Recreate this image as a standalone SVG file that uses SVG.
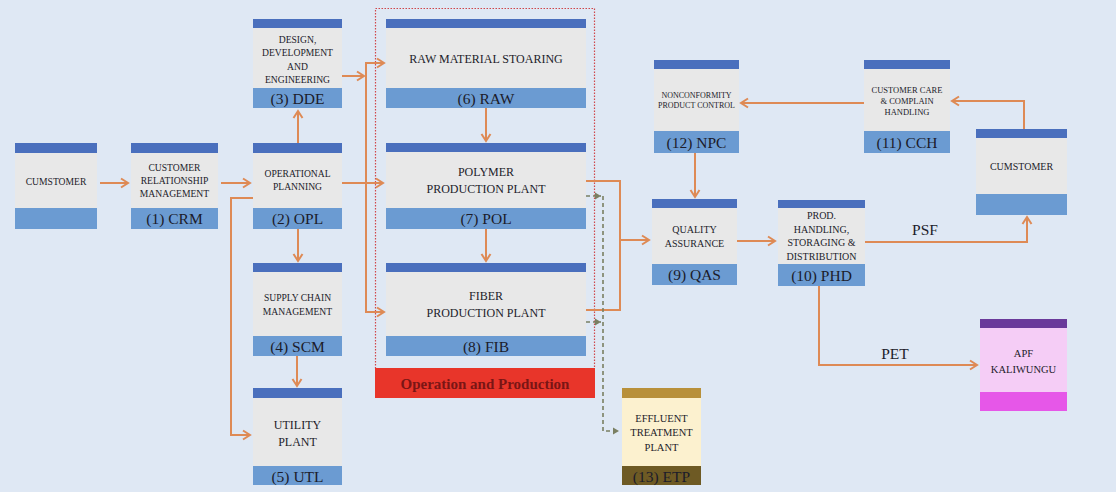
<svg xmlns="http://www.w3.org/2000/svg" width="1116" height="492" viewBox="0 0 1116 492">
<defs>
<marker id="arr" markerUnits="userSpaceOnUse" markerWidth="12" markerHeight="12" refX="9" refY="6" orient="auto">
<path d="M2,1.5 L9,6 L2,10.5" fill="none" stroke="#de8a55" stroke-width="2"/>
</marker>
<marker id="arrd" markerUnits="userSpaceOnUse" markerWidth="10" markerHeight="10" refX="8" refY="5" orient="auto">
<path d="M2,1.5 L8,5 L2,8.5 Z" fill="#7a7f62"/>
</marker>
<style>
.bar{fill:#4a6fbd}
.lab{fill:#6b9bd2}
.body{fill:#e8e8e8}
.t{font-family:"Liberation Serif","DejaVu Serif",serif;fill:#1c1c2a;text-anchor:middle}
.s{font-size:9.6px}
.m{font-size:12px}
.l{font-size:15.5px}
.c{fill:none;stroke:#de8a55;stroke-width:2}
.d{fill:none;stroke:#7a7f62;stroke-width:1.6;stroke-dasharray:4,3}
</style>
</defs>
<rect x="0" y="0" width="1116" height="492" fill="#dfe8f4"/>

<g id="operation-production">
<rect x="375.5" y="8.5" width="219" height="360" fill="none" stroke="#d0464a" stroke-width="1.2" stroke-dasharray="1.5,1.5"/>
<rect x="375" y="368" width="220" height="30" fill="#e8352a"/>
<text x="485" y="389" class="t" style="font-size:15px;font-weight:bold;fill:#7a1515">Operation and Production</text>
</g>

<g id="connectors">
<path class="c" d="M100,183 H128" marker-end="url(#arr)"/>
<path class="c" d="M221,183 H250" marker-end="url(#arr)"/>
<path class="c" d="M342,183 H383" marker-end="url(#arr)"/>
<path class="c" d="M298,143 V111" marker-end="url(#arr)"/>
<path class="c" d="M342,76 H364" marker-end="url(#arr)"/>
<path class="c" d="M366,76 V63 H384" marker-end="url(#arr)"/>
<path class="c" d="M366,76 V312 H384" marker-end="url(#arr)"/>
<path class="c" d="M253,198 H231 V435 H250" marker-end="url(#arr)"/>
<path class="c" d="M298,229 V261" marker-end="url(#arr)"/>
<path class="c" d="M297,356 V386" marker-end="url(#arr)"/>
<path class="c" d="M486,108 V141" marker-end="url(#arr)"/>
<path class="c" d="M486,229 V261" marker-end="url(#arr)"/>
<path class="c" d="M586,181 H620 V310 H586"/>
<path class="c" d="M620,240 H649" marker-end="url(#arr)"/>
<path class="d" d="M586,196 H601" marker-end="url(#arrd)"/>
<path class="d" d="M586,322 H601" marker-end="url(#arrd)"/>
<path class="d" d="M603,196 V431 H619" marker-end="url(#arrd)"/>
<path class="c" d="M695,153 V197" marker-end="url(#arr)"/>
<path class="c" d="M737,241 H775" marker-end="url(#arr)"/>
<path class="c" d="M865,242 H1027 V217" marker-end="url(#arr)"/>
<path class="c" d="M1024,129 V101 H952" marker-end="url(#arr)"/>
<path class="c" d="M864,103 H741" marker-end="url(#arr)"/>
<path class="c" d="M819,286 V365 H977" marker-end="url(#arr)"/>
<text x="925" y="235" class="t l">PSF</text>
<text x="895" y="359" class="t l">PET</text>
</g>

<g id="customer-left">
<rect x="15" y="143" width="82" height="10" class="bar"/>
<rect x="15" y="153" width="82" height="55" class="body"/>
<rect x="15" y="208" width="82" height="21" class="lab"/>
<text x="56" y="185" class="t s">CUMSTOMER</text>
</g>

<g id="crm">
<rect x="131" y="143" width="87" height="10" class="bar"/>
<rect x="131" y="153" width="87" height="55" class="body"/>
<rect x="131" y="208" width="87" height="21" class="lab"/>
<text x="174.5" y="171" class="t s">CUSTOMER</text>
<text x="174.5" y="184" class="t s">RELATIONSHIP</text>
<text x="174.5" y="197" class="t s">MANAGEMENT</text>
<text x="174.5" y="224" class="t l">(1) CRM</text>
</g>

<g id="opl">
<rect x="253" y="143" width="89" height="10" class="bar"/>
<rect x="253" y="153" width="89" height="55" class="body"/>
<rect x="253" y="208" width="89" height="21" class="lab"/>
<text x="297.5" y="177" class="t s">OPERATIONAL</text>
<text x="297.5" y="190" class="t s">PLANNING</text>
<text x="297.5" y="224" class="t l">(2) OPL</text>
</g>

<g id="dde">
<rect x="253" y="19" width="89" height="9" class="bar"/>
<rect x="253" y="28" width="89" height="60" class="body"/>
<rect x="253" y="88" width="89" height="20" class="lab"/>
<text x="297.5" y="43" class="t s">DESIGN,</text>
<text x="297.5" y="56" class="t s">DEVELOPMENT</text>
<text x="297.5" y="70" class="t s">AND</text>
<text x="297.5" y="83" class="t s">ENGINEERING</text>
<text x="297.5" y="104" class="t l">(3) DDE</text>
</g>

<g id="scm">
<rect x="253" y="263" width="89" height="9" class="bar"/>
<rect x="253" y="272" width="89" height="64" class="body"/>
<rect x="253" y="336" width="89" height="20" class="lab"/>
<text x="297.5" y="301" class="t s">SUPPLY CHAIN</text>
<text x="297.5" y="315" class="t s">MANAGEMENT</text>
<text x="297.5" y="352" class="t l">(4) SCM</text>
</g>

<g id="utl">
<rect x="253" y="388" width="89" height="10" class="bar"/>
<rect x="253" y="398" width="89" height="68" class="body"/>
<rect x="253" y="466" width="89" height="19" class="lab"/>
<text x="297.5" y="429" class="t m">UTILITY</text>
<text x="297.5" y="446" class="t m">PLANT</text>
<text x="297.5" y="482" class="t l">(5) UTL</text>
</g>

<g id="raw">
<rect x="386" y="19" width="200" height="9" class="bar"/>
<rect x="386" y="28" width="200" height="60" class="body"/>
<rect x="386" y="88" width="200" height="20" class="lab"/>
<text x="486" y="63" class="t m">RAW MATERIAL STOARING</text>
<text x="486" y="104" class="t l">(6) RAW</text>
</g>

<g id="pol">
<rect x="386" y="143" width="200" height="9" class="bar"/>
<rect x="386" y="152" width="200" height="56" class="body"/>
<rect x="386" y="208" width="200" height="21" class="lab"/>
<text x="486" y="176" class="t m">POLYMER</text>
<text x="486" y="193" class="t m">PRODUCTION PLANT</text>
<text x="486" y="224" class="t l">(7) POL</text>
</g>

<g id="fib">
<rect x="386" y="263" width="200" height="9" class="bar"/>
<rect x="386" y="272" width="200" height="64" class="body"/>
<rect x="386" y="336" width="200" height="20" class="lab"/>
<text x="486" y="300" class="t m">FIBER</text>
<text x="486" y="317" class="t m">PRODUCTION PLANT</text>
<text x="486" y="352" class="t l">(8) FIB</text>
</g>

<g id="etp">
<rect x="622" y="388" width="79" height="10" fill="#b8903a"/>
<rect x="622" y="398" width="79" height="68" fill="#fcf1cf"/>
<rect x="622" y="466" width="79" height="19" fill="#6e5a24"/>
<text x="661.5" y="422" class="t" style="font-size:10.5px">EFFLUENT</text>
<text x="661.5" y="436" class="t" style="font-size:10.5px">TREATMENT</text>
<text x="661.5" y="451" class="t" style="font-size:10.5px">PLANT</text>
<text x="661.5" y="482" class="t l">(13) ETP</text>
</g>

<g id="npc">
<rect x="654" y="60" width="85" height="9" class="bar"/>
<rect x="654" y="69" width="85" height="62" class="body"/>
<rect x="654" y="131" width="85" height="22" class="lab"/>
<text x="696.5" y="98" class="t" style="font-size:8px">NONCONFORMITY</text>
<text x="696.5" y="108" class="t" style="font-size:8px">PRODUCT CONTROL</text>
<text x="696.5" y="148" class="t l">(12) NPC</text>
</g>

<g id="qas">
<rect x="652" y="199" width="85" height="9" class="bar"/>
<rect x="652" y="208" width="85" height="56" class="body"/>
<rect x="652" y="264" width="85" height="21" class="lab"/>
<text x="694.5" y="233" class="t" style="font-size:10px">QUALITY</text>
<text x="694.5" y="247" class="t" style="font-size:10px">ASSURANCE</text>
<text x="694.5" y="280" class="t l">(9) QAS</text>
</g>

<g id="phd">
<rect x="778" y="200" width="87" height="8" class="bar"/>
<rect x="778" y="208" width="87" height="56" class="body"/>
<rect x="778" y="264" width="87" height="22" class="lab"/>
<text x="821.5" y="219" class="t" style="font-size:10px">PROD.</text>
<text x="821.5" y="233" class="t" style="font-size:10px">HANDLING,</text>
<text x="821.5" y="246" class="t" style="font-size:10px">STORAGING &amp;</text>
<text x="821.5" y="260" class="t" style="font-size:10px">DISTRIBUTION</text>
<text x="821.5" y="281" class="t l">(10) PHD</text>
</g>

<g id="cch">
<rect x="864" y="60" width="86" height="9" class="bar"/>
<rect x="864" y="69" width="86" height="62" class="body"/>
<rect x="864" y="131" width="86" height="22" class="lab"/>
<text x="907" y="93" class="t" style="font-size:8.5px">CUSTOMER CARE</text>
<text x="907" y="104" class="t" style="font-size:8.5px">&amp; COMPLAIN</text>
<text x="907" y="115" class="t" style="font-size:8.5px">HANDLING</text>
<text x="907" y="148" class="t l">(11) CCH</text>
</g>

<g id="customer-right">
<rect x="976" y="129" width="91" height="9" class="bar"/>
<rect x="976" y="138" width="91" height="56" class="body"/>
<rect x="976" y="194" width="91" height="21" class="lab"/>
<text x="1021.5" y="170" class="t" style="font-size:10px">CUMSTOMER</text>
</g>

<g id="apf">
<rect x="980" y="319" width="87" height="9" fill="#6a3a9a"/>
<rect x="980" y="328" width="87" height="64" fill="#f5cdf6"/>
<rect x="980" y="392" width="87" height="19" fill="#e657e8"/>
<text x="1023.5" y="357" class="t" style="font-size:10.5px">APF</text>
<text x="1023.5" y="373" class="t" style="font-size:10.5px">KALIWUNGU</text>
</g>
</svg>
